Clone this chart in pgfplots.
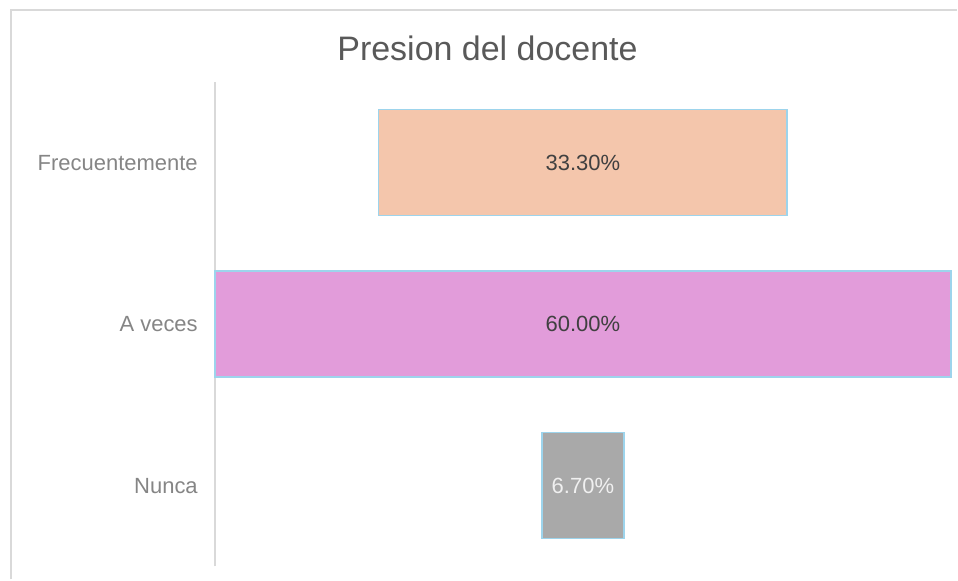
\documentclass[border=0pt]{standalone}
\usepackage{pgfplots}
\pgfplotsset{compat=1.18}
\usepackage{fontspec}
\setmainfont{Liberation Sans}
\definecolor{peach}{HTML}{F4C6AC}
\definecolor{pinkbar}{HTML}{E29CDA}
\definecolor{greybar}{HTML}{A9A9A9}
\definecolor{edge}{HTML}{9DD4EC}
\definecolor{frame}{HTML}{D9D9D9}
\definecolor{ticktext}{HTML}{858585}
\definecolor{titletext}{HTML}{595959}
\begin{document}
\begin{tikzpicture}
\path (0,0) rectangle (479pt,290pt);
\draw[frame, line width=1pt] (5.5pt,0) -- (5.5pt,285pt) -- (479pt,285pt);
\node[text=titletext, font=\fontsize{17}{20}\selectfont] at (244pt,266pt) {Presion del docente};
\begin{axis}[
    at={(107.5pt,6.5pt)}, anchor=south west,
    scale only axis,
    width=368.5pt, height=242.5pt,
    xbar stacked,
    bar width=53pt,
    xmin=0, xmax=60,
    ymin=-0.5, ymax=2.5,
    axis x line=none,
    axis y line*=left,
    y axis line style={frame, line width=0.75pt},
    xtick=\empty,
    ytick={0,1,2},
    yticklabels={Nunca,A veces,Frecuentemente},
    major tick length=0pt,
    yticklabel style={text=ticktext, font=\fontsize{11}{13}\selectfont, xshift=-5pt},
    clip=false,
]
% invisible offset that centres each bar
\addplot[draw=none, fill=none] coordinates {(13.35,2) (0,1) (26.65,0)};
\addplot[fill=peach, draw=edge, line width=0.75pt] coordinates {(33.3,2) (0,1) (0,0)};
\addplot[fill=pinkbar, draw=edge, line width=0.75pt] coordinates {(0,2) (60,1) (0,0)};
\addplot[fill=greybar, draw=edge, line width=0.75pt] coordinates {(0,2) (0,1) (6.7,0)};
\coordinate (lf) at (axis cs:30,2);
\coordinate (la) at (axis cs:30,1);
\coordinate (ln) at (axis cs:30,0);
\end{axis}
\node[text=black!75, font=\fontsize{11}{13}\selectfont] at (lf) {33.30\%};
\node[text=black!75, font=\fontsize{11}{13}\selectfont] at (la) {60.00\%};
\node[text=white!94!black, font=\fontsize{11}{13}\selectfont] at (ln) {6.70\%};
\end{tikzpicture}
\end{document}
